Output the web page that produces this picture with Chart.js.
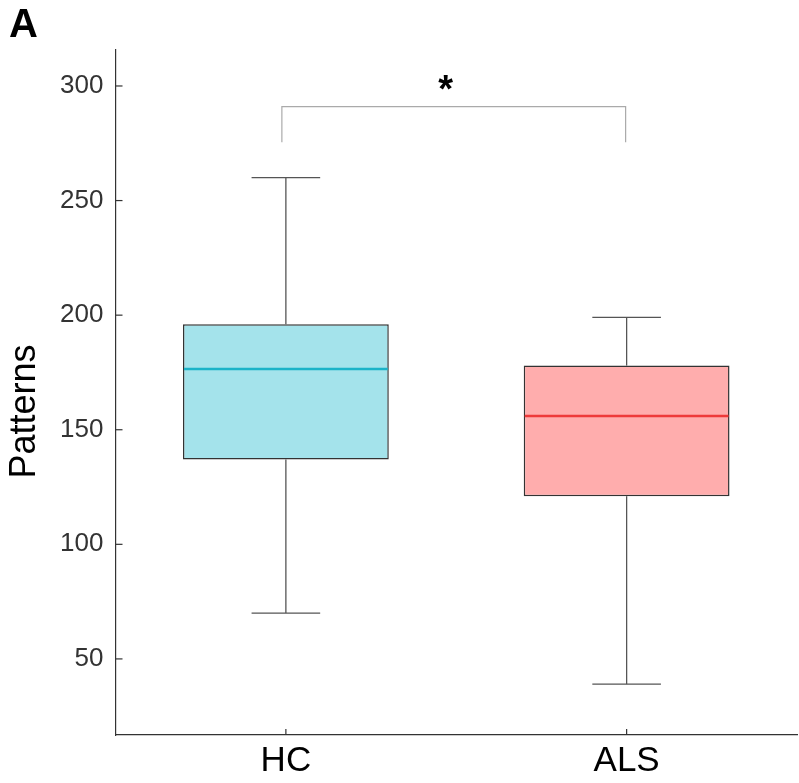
<!DOCTYPE html>
<html><head><meta charset="utf-8">
<script src="https://cdn.jsdelivr.net/npm/chart.js@4"></script>
<style>html,body{margin:0;padding:0;background:#fff}#wrap{width:799px;height:783px;position:relative}</style>
</head><body><div id="wrap"><canvas id="c" width="799" height="783"></canvas></div>
<script>
// ---- data ----
const categories = ['HC', 'ALS'];
const whiskerLow = [70, 39];
const q1 = [137, 121];
const median = [176.5, 156];
const q3 = [196, 178];
const whiskerHigh = [260, 199];
const yTicks = [50, 100, 150, 200, 250, 300];
const yRange = [16.8, 315.7];
const sigPair = [0, 1];
const sigLevels = [275.5, 291];
const sigLabel = '*';
const yTitle = 'Patterns';
const panelLabel = 'A';

// ---- styles ----
const fills = ['#a4e3eb', '#ffadad'];
const medianColors = ['#1bb3c8', '#ee3a3a'];
const FONT = "'Liberation Sans', Arial, Helvetica, sans-serif";

function seg(ctx, x1, y1, x2, y2) { ctx.beginPath(); ctx.moveTo(x1, y1); ctx.lineTo(x2, y2); ctx.stroke(); }

const boxPlugin = {
  id: 'boxExtras',
  beforeDatasetsDraw(chart) {
    const ctx = chart.ctx, y = chart.scales.y;
    const meta = chart.getDatasetMeta(0);
    ctx.save();
    ctx.strokeStyle = '#555';
    ctx.lineWidth = 1.3;
    categories.forEach((c, i) => {
      const bar = meta.data[i];
      const cx = bar.x, w = bar.width;
      seg(ctx, cx, y.getPixelForValue(q3[i]), cx, y.getPixelForValue(whiskerHigh[i]));
      seg(ctx, cx, y.getPixelForValue(q1[i]), cx, y.getPixelForValue(whiskerLow[i]));
      const yh = y.getPixelForValue(whiskerHigh[i]), yl = y.getPixelForValue(whiskerLow[i]);
      seg(ctx, cx - w / 6, yh, cx + w / 6, yh);
      seg(ctx, cx - w / 6, yl, cx + w / 6, yl);
    });
    ctx.restore();
  },
  afterDatasetsDraw(chart) {
    const ctx = chart.ctx, y = chart.scales.y;
    const meta = chart.getDatasetMeta(0);
    ctx.save();
    ctx.lineWidth = 2.5;
    categories.forEach((c, i) => {
      const bar = meta.data[i];
      const cx = bar.x, w = bar.width;
      const ym = y.getPixelForValue(median[i]);
      ctx.strokeStyle = medianColors[i];
      seg(ctx, cx - w / 2 + 1, ym, cx + w / 2 - 1, ym);
    });
    ctx.restore();
  },
  afterDraw(chart) {
    const ctx = chart.ctx, x = chart.scales.x, y = chart.scales.y, ca = chart.chartArea;
    ctx.save();
    // inward tick marks
    ctx.strokeStyle = '#333';
    ctx.lineWidth = 1.2;
    y.ticks.forEach(t => { const py = y.getPixelForValue(t.value); seg(ctx, ca.left, py, ca.left + 7, py); });
    categories.forEach((c, i) => { const px = x.getPixelForValue(i); seg(ctx, px, ca.bottom, px, ca.bottom - 6); });
    // significance bracket
    const x1 = x.getPixelForValue(sigPair[0]) - 4, x2 = x.getPixelForValue(sigPair[1]) - 1;
    const yb = y.getPixelForValue(sigLevels[0]), yt = y.getPixelForValue(sigLevels[1]);
    ctx.strokeStyle = '#aaaaaa';
    ctx.lineWidth = 1.2;
    ctx.beginPath(); ctx.moveTo(x1, yb); ctx.lineTo(x1, yt); ctx.lineTo(x2, yt); ctx.lineTo(x2, yb); ctx.stroke();
    ctx.fillStyle = '#000';
    ctx.font = 'bold 38px ' + FONT;
    ctx.textAlign = 'center';
    ctx.textBaseline = 'alphabetic';
    const m = ctx.measureText(sigLabel);
    const cy = yt - 24;
    ctx.fillText(sigLabel, (x1 + x2) / 2 - 8, cy + (m.actualBoundingBoxAscent - m.actualBoundingBoxDescent) / 2);
    // y title
    ctx.save();
    ctx.translate(25, (ca.top + ca.bottom) / 2 + 19);
    ctx.rotate(-Math.PI / 2);
    ctx.font = '36px ' + FONT;
    ctx.textAlign = 'center';
    ctx.textBaseline = 'middle';
    ctx.fillText(yTitle, 0, 0);
    ctx.restore();
    // panel label
    ctx.font = 'bold 40px ' + FONT;
    ctx.textAlign = 'left';
    ctx.textBaseline = 'alphabetic';
    ctx.fillText(panelLabel, 9, 37);
    ctx.restore();
  }
};

new Chart(document.getElementById('c'), {
  type: 'bar',
  data: {
    labels: categories,
    datasets: [{
      data: categories.map((c, i) => [q1[i], q3[i]]),
      backgroundColor: fills,
      borderColor: '#333',
      borderWidth: 1.5,
      borderSkipped: false,
      barPercentage: 0.604,
      categoryPercentage: 1
    }]
  },
  options: {
    responsive: false,
    animation: false,
    devicePixelRatio: 1,
    layout: { padding: { top: 50, right: 2, left: 0, bottom: 0 } },
    plugins: { legend: { display: false }, tooltip: { enabled: false } },
    scales: {
      x: {
        offset: true,
        grid: { display: false, drawTicks: false },
        border: { display: true, color: '#333', width: 1.2 },
        ticks: { color: '#000', font: { family: FONT, size: 35 }, padding: 5 },
        afterFit(s) { s.height = 48; }
      },
      y: {
        min: yRange[0], max: yRange[1],
        grid: { display: false, drawTicks: false },
        border: { display: true, color: '#333', width: 1.2 },
        ticks: { color: '#333', font: { family: FONT, size: 26 }, padding: 12 },
        afterBuildTicks(s) { s.ticks = yTicks.map(v => ({ value: v })); },
        afterFit(s) { s.width = 115.5; }
      }
    }
  },
  plugins: [boxPlugin]
});
</script></body></html>
